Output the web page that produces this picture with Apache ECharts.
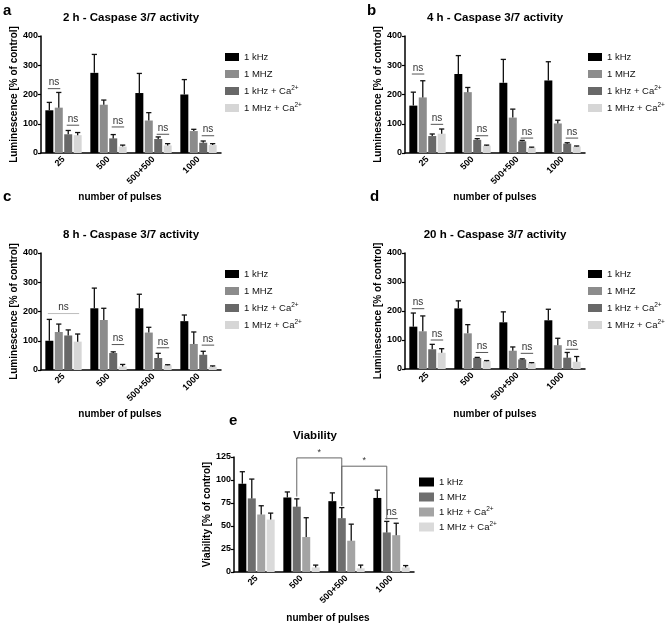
<!DOCTYPE html>
<html><head><meta charset="utf-8">
<script src="https://cdn.jsdelivr.net/npm/echarts/dist/echarts.min.js"></script>
<style>html,body{margin:0;padding:0;background:#fff}#c{width:668px;height:625px}</style>
</head><body><div id="c"></div>
<script>
// ---------- DATA ----------
const categories = ['25', '500', '500+500', '1000'];
const caspNames = ['1 kHz', '1 MHZ', '1 kHz + Ca2+', '1 MHz + Ca2+'];
const viabNames = ['1 kHz', '1 MHz', '1 kHz + Ca2+', '1 MHz + Ca2+'];
const caspTicks = [0, 100, 200, 300, 400];
const viabTicks = [0, 25, 50, 75, 100, 125];

// Panel a : 2 h
const a_kHz = [146, 274, 205, 200];      const a_kHz_sd = [27, 63, 67, 51];
const a_MHz = [155, 165, 111, 75];       const a_MHz_sd = [52, 16, 27, 6];
const a_kHzCa = [64, 50, 48, 35];        const a_kHzCa_sd = [13, 13, 7, 6];
const a_MHzCa = [61, 22, 26, 27];        const a_MHzCa_sd = [9, 5, 6, 5];
const a_ns = [[0, 0, 1, 220], [0, 2, 3, 95], [1, 2, 3, 89], [2, 2, 3, 64], [3, 2, 3, 59]];

// Panel b : 4 h
const b_kHz = [162, 270, 240, 248];      const b_kHz_sd = [46, 63, 80, 64];
const b_MHz = [190, 208, 121, 101];      const b_MHz_sd = [57, 16, 29, 11];
const b_kHzCa = [58, 45, 40, 32];        const b_kHzCa_sd = [7, 4, 3, 3];
const b_MHzCa = [66, 25, 18, 22];        const b_MHzCa_sd = [16, 2, 2, 2];
const b_ns = [[0, 0, 1, 270], [0, 2, 3, 98], [1, 2, 3, 59], [2, 2, 3, 51], [3, 2, 3, 51]];

// Panel c : 8 h
const c_kHz = [100, 211, 211, 167];      const c_kHz_sd = [73, 69, 48, 21];
const c_MHz = [130, 171, 128, 89];       const c_MHz_sd = [27, 40, 18, 41];
const c_kHzCa = [118, 58, 41, 52];       const c_kHzCa_sd = [19, 4, 16, 12];
const c_MHzCa = [97, 12, 16, 11];        const c_MHzCa_sd = [26, 7, 2, 3];
const c_ns = [[0, 0, 3, 193, 1], [1, 2, 3, 87], [2, 2, 3, 76], [3, 2, 3, 85]];

// Panel d : 20 h
const d_kHz = [146, 209, 161, 168];      const d_kHz_sd = [47, 26, 36, 38];
const d_MHz = [130, 123, 63, 82];        const d_MHz_sd = [53, 30, 13, 24];
const d_kHzCa = [68, 38, 33, 39];        const d_kHzCa_sd = [17, 2, 2, 18];
const d_MHzCa = [56, 27, 20, 25];        const d_MHzCa_sd = [14, 2, 2, 18];
const d_ns = [[0, 0, 1, 208], [0, 2, 3, 100], [1, 2, 3, 57], [2, 2, 3, 54], [3, 2, 3, 68]];

// Panel e : Viability
const e_kHz = [96, 81, 77, 80.5];        const e_kHz_sd = [13, 6, 9, 8.5];
const e_MHz = [80, 71, 58.5, 43];        const e_MHz_sd = [21, 8.5, 11.5, 12];
const e_kHzCa = [62.5, 38, 34, 40];      const e_kHzCa_sd = [9.5, 21, 18, 13];
const e_MHzCa = [57, 5, 4, 5];           const e_MHzCa_sd = [7, 2.5, 3.5, 2];
const e_ns = [[3, 1, 2, 58]];
// brackets: [cat1, cat2, barIndex, bottom1, top, bottom2, label]
const e_brackets = [[1, 2, 1, 82, 124, 72, '*'], [2, 3, 1, 72, 115, 57, '*']];

// ---------- STYLE / LAYOUT ----------
const FONT = '"Liberation Sans", Arial, Helvetica, sans-serif';
const caspColors = ['#000000', '#8c8c8c', '#686868', '#d6d6d6'];
const viabColors = ['#000000', '#6e6e6e', '#a4a4a4', '#dadada'];
const BW = 8, GAP = 0.18, PITCH = BW * (1 + GAP);

const panels = [
  {grid: {left: 41, top: 36, width: 180, height: 117}, max: 400, interval: 100, names: caspNames, colors: caspColors,
   means: [a_kHz, a_MHz, a_kHzCa, a_MHzCa], sds: [a_kHz_sd, a_MHz_sd, a_kHzCa_sd, a_MHzCa_sd], ns: a_ns,
   yName: 'Luminescence [% of control]', legend: {left: 225, top: 51}},
  {grid: {left: 405, top: 36, width: 180, height: 117}, max: 400, interval: 100, names: caspNames, colors: caspColors,
   means: [b_kHz, b_MHz, b_kHzCa, b_MHzCa], sds: [b_kHz_sd, b_MHz_sd, b_kHzCa_sd, b_MHzCa_sd], ns: b_ns,
   yName: 'Luminescence [% of control]', legend: {left: 588, top: 51}},
  {grid: {left: 41, top: 253, width: 180, height: 117}, max: 400, interval: 100, names: caspNames, colors: caspColors,
   means: [c_kHz, c_MHz, c_kHzCa, c_MHzCa], sds: [c_kHz_sd, c_MHz_sd, c_kHzCa_sd, c_MHzCa_sd], ns: c_ns,
   yName: 'Luminescence [% of control]', legend: {left: 225, top: 268}},
  {grid: {left: 405, top: 253, width: 180, height: 116}, max: 400, interval: 100, names: caspNames, colors: caspColors,
   means: [d_kHz, d_MHz, d_kHzCa, d_MHzCa], sds: [d_kHz_sd, d_MHz_sd, d_kHzCa_sd, d_MHzCa_sd], ns: d_ns,
   yName: 'Luminescence [% of control]', legend: {left: 588, top: 268}},
  {grid: {left: 234, top: 457, width: 180, height: 115}, max: 125, interval: 25, names: viabNames, colors: viabColors,
   means: [e_kHz, e_MHz, e_kHzCa, e_MHzCa], sds: [e_kHz_sd, e_MHz_sd, e_kHzCa_sd, e_MHzCa_sd], ns: e_ns,
   yName: 'Viability [% of control]', legend: {left: 419, top: 476}, brackets: e_brackets, small: true}
];

function offX(bi) { return (bi - 1.5) * PITCH; }

function renderErr(params, api) {
  const cat = api.value(0), bi = api.value(1), v = api.value(2), sd = api.value(3);
  const b = api.coord([cat, v]), t = api.coord([cat, v + sd]);
  const x = b[0] + offX(bi);
  const st = {stroke: '#111', lineWidth: 1.3};
  return {type: 'group', children: [
    {type: 'line', shape: {x1: x, y1: b[1], x2: x, y2: t[1]}, style: st},
    {type: 'line', shape: {x1: x - 2.6, y1: t[1], x2: x + 2.6, y2: t[1]}, style: st}
  ]};
}

function renderNs(params, api) {
  const cat = api.value(0), b1 = api.value(1), b2 = api.value(2), y = api.value(3), light = api.value(4);
  const p = api.coord([cat, y]);
  const x1 = p[0] + offX(b1) - 1.5, x2 = p[0] + offX(b2) + 1.5;
  return {type: 'group', children: [
    {type: 'line', shape: {x1: x1, y1: p[1], x2: x2, y2: p[1]}, style: {stroke: light === 1 ? '#bdbdbd' : '#555', lineWidth: 1}},
    {type: 'text', x: (x1 + x2) / 2, y: p[1] - 1, style: {text: 'ns', fill: '#333', font: '10px ' + FONT, align: 'center', verticalAlign: 'bottom', textAlign: 'center', textVerticalAlign: 'bottom'}}
  ]};
}

function renderBracket(params, api) {
  const c1 = api.value(0), c2 = api.value(1), bi = api.value(2);
  const p1 = api.coord([c1, api.value(3)]), pt1 = api.coord([c1, api.value(4)]);
  const p2 = api.coord([c2, api.value(5)]), pt2 = api.coord([c2, api.value(4)]);
  const x1 = p1[0] + offX(bi), x2 = p2[0] + offX(bi);
  return {type: 'group', children: [
    {type: 'polyline', shape: {points: [[x1, p1[1]], [x1, pt1[1]], [x2, pt2[1]], [x2, p2[1]]]}, style: {stroke: '#666', lineWidth: 1, fill: null}},
    {type: 'text', x: (x1 + x2) / 2, y: pt1[1] - 1, style: {text: api.value(6) || '*', fill: '#333', font: '9px ' + FONT, align: 'center', verticalAlign: 'bottom', textAlign: 'center', textVerticalAlign: 'bottom'}}
  ]};
}

const grids = [], xAxes = [], yAxes = [], series = [], legends = [];
panels.forEach((P, pi) => {
  grids.push(Object.assign({containLabel: false}, P.grid));
  xAxes.push({
    type: 'category', gridIndex: pi, data: categories,
    axisLine: {lineStyle: {color: '#000', width: 1.5}},
    axisTick: {alignWithLabel: true, length: 4, lineStyle: {color: '#000', width: 1.2}},
    axisLabel: {interval: 0, rotate: 45, fontSize: 9, fontWeight: 'bold', color: '#000', fontFamily: FONT, margin: 5},
    splitLine: {show: false}
  });
  yAxes.push({
    type: 'value', gridIndex: pi, min: 0, max: P.max, interval: P.interval,
    name: P.yName, nameLocation: 'middle', nameGap: P.small ? 22 : 20,
    nameTextStyle: {fontSize: 10, fontWeight: 'bold', color: '#000', fontFamily: FONT},
    axisLine: {show: true, lineStyle: {color: '#000', width: 1.5}},
    axisTick: {show: true, length: 3, lineStyle: {color: '#000', width: 1.2}},
    axisLabel: {fontSize: 9, fontWeight: 'bold', color: '#000', fontFamily: FONT, margin: 3},
    splitLine: {show: false}
  });
  P.names.forEach((nm, bi) => {
    series.push({
      type: 'bar', name: nm, xAxisIndex: pi, yAxisIndex: pi, data: P.means[bi],
      barWidth: BW, barGap: (GAP * 100) + '%', itemStyle: {color: P.colors[bi]},
      silent: true, z: 2
    });
  });
  const errData = [];
  P.means.forEach((arr, bi) => arr.forEach((v, ci) => errData.push([ci, bi, v, P.sds[bi][ci]])));
  series.push({type: 'custom', xAxisIndex: pi, yAxisIndex: pi, data: errData, renderItem: renderErr,
    encode: {x: 0, y: 2}, z: 3, silent: true});
  series.push({type: 'custom', xAxisIndex: pi, yAxisIndex: pi, data: P.ns.map(r => [r[0], r[1], r[2], r[3], r[4] || 0]),
    renderItem: renderNs, encode: {x: 0, y: 3}, z: 4, silent: true});
  if (P.brackets) {
    series.push({type: 'custom', xAxisIndex: pi, yAxisIndex: pi, data: P.brackets, renderItem: renderBracket,
      encode: {x: 0, y: 4}, z: 4, silent: true, clip: false});
  }
  legends.push({
    orient: 'vertical', left: P.legend.left, top: P.legend.top, padding: 0,
    icon: 'rect', itemWidth: P.small ? 15 : 14, itemHeight: P.small ? 9 : 8, itemGap: P.small ? 3 : 5,
    selectedMode: false,
    data: P.names.map((n, i) => ({name: n, itemStyle: {color: P.colors[i]}})),
    formatter: n => n.replace('Ca2+', 'Ca{sup|2+}'),
    textStyle: {fontSize: 9.5, color: '#111', fontFamily: FONT, lineHeight: 12,
      rich: {sup: {fontSize: 6.5, fontFamily: FONT, color: '#111', padding: [0, 0, 5, 0], lineHeight: 12}}}
  });
});

function txt(x, y, text, size, weight, align) {
  return {type: 'text', x: x, y: y, silent: true,
    style: {text: text, fill: '#000', font: weight + ' ' + size + 'px ' + FONT,
      align: align || 'center', verticalAlign: 'middle', textAlign: align || 'center', textVerticalAlign: 'middle'}};
}

const graphics = [
  txt(3, 11, 'a', 15, 'bold', 'left'),
  txt(367, 11, 'b', 15, 'bold', 'left'),
  txt(3, 197, 'c', 15, 'bold', 'left'),
  txt(370, 197, 'd', 15, 'bold', 'left'),
  txt(229, 421, 'e', 15, 'bold', 'left'),
  txt(131, 18, '2 h - Caspase 3/7 activity', 11.5, 'bold'),
  txt(495, 18, '4 h - Caspase 3/7 activity', 11.5, 'bold'),
  txt(131, 235, '8 h - Caspase 3/7 activity', 11.5, 'bold'),
  txt(495, 235, '20 h - Caspase 3/7 activity', 11.5, 'bold'),
  txt(315, 436, 'Viability', 11.5, 'bold'),
  txt(120, 197, 'number of pulses', 10, 'bold'),
  txt(495, 197, 'number of pulses', 10, 'bold'),
  txt(120, 414, 'number of pulses', 10, 'bold'),
  txt(495, 414, 'number of pulses', 10, 'bold'),
  txt(328, 618, 'number of pulses', 10, 'bold')
];

const chart = echarts.init(document.getElementById('c'), null, {renderer: 'canvas'});
chart.setOption({
  animation: false,
  backgroundColor: '#ffffff',
  textStyle: {fontFamily: FONT},
  grid: grids, xAxis: xAxes, yAxis: yAxes, series: series, legend: legends,
  graphic: graphics
});
</script>
</body></html>
